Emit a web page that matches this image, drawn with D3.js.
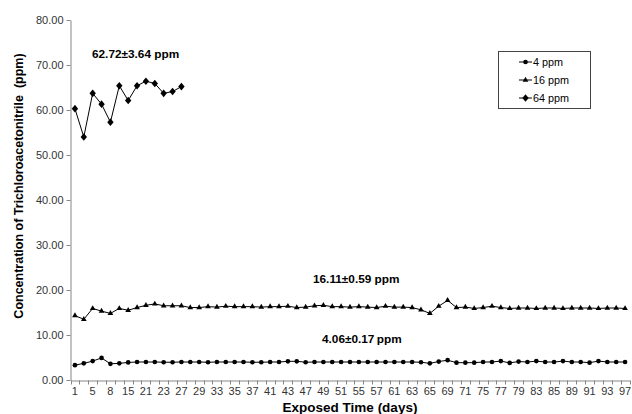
<!DOCTYPE html>
<html>
<head>
<meta charset="utf-8">
<script src="https://cdn.jsdelivr.net/npm/d3@7/dist/d3.min.js"></script>
<style>
  html, body { margin: 0; padding: 0; background: #fff; }
  svg { display: block; font-family: "Liberation Sans", Arial, sans-serif; }
</style>
</head>
<body>
<svg id="chart" width="632" height="414"></svg>
<script>
// Exposure days (category axis, every other one labelled)
const days = [1, 3, 5, 7, 8, 11, 15, 19, 21, 22, 23, 25, 27, 28, 29, 31, 33, 34, 35, 36, 37, 39,
  41, 42, 43, 45, 47, 48, 49, 50, 51, 53, 55, 56, 57, 59, 61, 62, 63, 64, 65, 67, 69, 70, 71, 73,
  75, 76, 77, 78, 79, 81, 83, 84, 85, 87, 89, 90, 91, 92, 93, 95, 97];

// Measured chamber concentrations (ppm)
const conc4 = [3.3, 3.7, 4.2, 4.9, 3.6, 3.7, 3.9, 4.0, 4.0, 4.0, 3.95, 3.95, 4.0, 4.0, 4.0, 3.95,
  4.0, 4.0, 4.0, 4.0, 3.95, 3.95, 4.0, 4.0, 4.15, 4.15, 3.95, 4.0, 4.0, 4.0, 4.0, 4.0, 4.0, 4.0,
  4.0, 4.0, 4.0, 4.0, 4.0, 3.95, 3.7, 4.1, 4.4, 3.85, 3.85, 3.85, 4.0, 4.0, 4.2, 3.8, 4.1, 4.0,
  4.2, 4.0, 4.0, 4.2, 4.0, 4.0, 3.85, 4.2, 4.0, 4.0, 4.0];

const conc16 = [14.3, 13.5, 15.9, 15.3, 14.8, 15.9, 15.5, 16.1, 16.6, 16.9, 16.5, 16.5, 16.5, 16.1,
  16.1, 16.3, 16.2, 16.4, 16.3, 16.3, 16.3, 16.2, 16.3, 16.3, 16.4, 16.1, 16.2, 16.5, 16.6, 16.3,
  16.3, 16.2, 16.3, 16.2, 16.1, 16.4, 16.2, 16.2, 16.1, 15.6, 14.8, 16.4, 17.7, 16.1, 16.2, 15.9,
  16.1, 16.4, 16.1, 15.9, 16.0, 16.0, 15.9, 16.0, 16.0, 15.9, 16.0, 16.0, 16.0, 15.9, 16.0, 16.0, 15.9];

const conc64 = [60.3, 54.0, 63.7, 61.3, 57.3, 65.4, 62.1, 65.4, 66.4, 65.9, 63.7, 64.1, 65.2];

const seriesNames = ["4 ppm", "16 ppm", "64 ppm"];
const summaryLabels = ["4.06\u00B10.17\u2009ppm", "16.11\u00B10.59 ppm", "62.72\u00B13.64 ppm"];
const yTicks = [0, 10, 20, 30, 40, 50, 60, 70, 80];

const svg = d3.select("#chart");
const plotLeft = 70.5, plotRight = 629.5, plotTop = 20, plotBottom = 380;

const x = d3.scaleBand().domain(days).range([plotLeft, plotRight]).padding(0);
const y = d3.scaleLinear().domain([0, 80]).range([plotBottom, plotTop]);
const cx = d => x(d) + x.bandwidth() / 2;

const axisGrey = "#868686";

// Y axis
const yAxis = svg.append("g")
  .attr("transform", `translate(${plotLeft},0)`)
  .call(d3.axisLeft(y).tickValues(yTicks).tickFormat(d3.format(".2f")).tickSize(4).tickSizeOuter(0).tickPadding(3));
yAxis.select(".domain").attr("stroke", axisGrey);
yAxis.selectAll(".tick line").attr("stroke", axisGrey);
yAxis.selectAll(".tick text").attr("fill", "#333").style("font-size", "11px");

// X axis: labels on alternate categories, tick marks on band edges
const xAxis = svg.append("g")
  .attr("transform", `translate(0,${plotBottom + 0.5})`)
  .call(d3.axisBottom(x)
    .tickFormat((d, i) => (i % 2 === 0 ? d : ""))
    .tickSize(0).tickSizeOuter(0).tickPadding(7));
xAxis.select(".domain").attr("stroke", axisGrey);
xAxis.selectAll(".tick text").attr("fill", "#333").style("font-size", "11px");
const edges = days.map(d => x(d)).concat([x(days[days.length - 1]) + x.bandwidth()]);
xAxis.selectAll("line.edge").data(edges).join("line")
  .attr("class", "edge")
  .attr("x1", d => Math.round(d) + 0.5).attr("x2", d => Math.round(d) + 0.5)
  .attr("y1", 0).attr("y2", 4)
  .attr("stroke", axisGrey);

// Marker shapes
const diamond = "M0,-3.8L3.2,0L0,3.8L-3.2,0Z";
const triangle = d3.symbol().type(d3.symbolTriangle).size(14)();
const circle = d3.symbol().type(d3.symbolCircle).size(17)();
const shapes = [circle, triangle, diamond];
const allSeries = [conc4, conc16, conc64];

const line = d3.line().x((v, i) => cx(days[i])).y(v => y(v));

allSeries.forEach((vals, k) => {
  const g = svg.append("g");
  g.append("path").datum(vals)
    .attr("d", line)
    .attr("fill", "none").attr("stroke", "#000").attr("stroke-width", 1);
  g.selectAll("path.m").data(vals).join("path")
    .attr("class", "m")
    .attr("d", shapes[k])
    .attr("transform", (v, i) => `translate(${cx(days[i])},${y(v)})`)
    .attr("fill", "#000");
});

// Mean ± SD annotations
const annot = [
  { text: summaryLabels[2], x: 92, y: 58 },
  { text: summaryLabels[1], x: 313, y: 283 },
  { text: summaryLabels[0], x: 322, y: 343 }
];
svg.selectAll("text.annot").data(annot).join("text")
  .attr("class", "annot")
  .attr("x", d => d.x).attr("y", d => d.y)
  .style("font-size", "11.8px").style("font-weight", "bold")
  .attr("fill", "#000")
  .text(d => d.text);

// Legend
const lg = svg.append("g");
lg.append("rect")
  .attr("x", 498.5).attr("y", 51.5).attr("width", 92).attr("height", 57)
  .attr("fill", "#fff").attr("stroke", "#444").attr("stroke-width", 1);
seriesNames.forEach((name, k) => {
  const yy = 62 + k * 18;
  lg.append("line").attr("x1", 519).attr("x2", 532).attr("y1", yy).attr("y2", yy)
    .attr("stroke", "#000").attr("stroke-width", 1);
  lg.append("path").attr("d", shapes[k]).attr("transform", `translate(525.5,${yy})`).attr("fill", "#000");
  lg.append("text").attr("x", 533).attr("y", yy).attr("dy", "0.35em")
    .style("font-size", "10.8px").attr("fill", "#000").text(name);
});

// Axis titles
svg.append("text")
  .attr("transform", "translate(22.5,186) rotate(-90)")
  .attr("text-anchor", "middle")
  .style("font-size", "12.5px").style("font-weight", "bold")
  .attr("fill", "#000")
  .text("Concentration of Trichloroacetonitrile\u00A0 (ppm)");

svg.append("text")
  .attr("x", 350).attr("y", 412)
  .attr("text-anchor", "middle")
  .style("font-size", "13.5px").style("font-weight", "bold")
  .attr("fill", "#000")
  .text("Exposed Time (days)");
</script>
</body>
</html>
